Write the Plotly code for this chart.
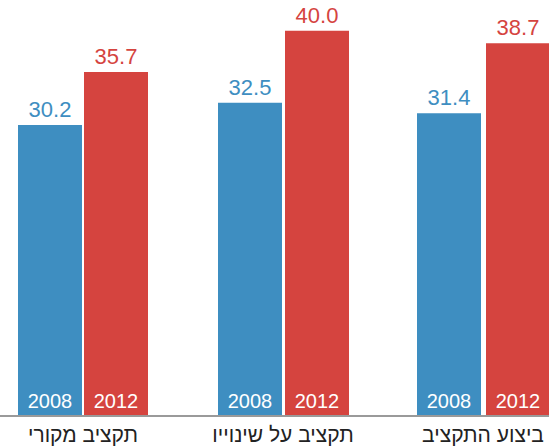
import plotly.graph_objects as go

categories = ["תקציב מקורי", "תקציב על שינוייו", "ביצוע התקציב"]
years = ["2008", "2012"]
values_2008 = [30.2, 32.5, 31.4]
values_2012 = [35.7, 40.0, 38.7]

BLUE = "#3e8ec1"
RED = "#d5443f"
FONT = "Liberation Sans, Arial, sans-serif"

series = [
    (years[0], values_2008, BLUE, [-0.325, -0.325, -0.33]),
    (years[1], values_2012, RED, [0.005, 0.01, 0.015]),
]
WIDTH = 0.32

fig = go.Figure()
for year, vals, color, off in series:
    # main bar with value label above
    fig.add_trace(go.Bar(
        x=categories, y=vals, name=year,
        marker=dict(color=color, line=dict(width=0)),
        offset=off, width=WIDTH,
        text=[f"{v:.1f}" for v in vals],
        textposition="outside",
        textfont=dict(family=FONT, size=22, color=color),
        constraintext="none",
        cliponaxis=False,
        hoverinfo="skip",
    ))
    # transparent overlay carrying the year label inside the bar
    fig.add_trace(go.Bar(
        x=categories, y=vals, name=year + " label",
        marker=dict(color="rgba(0,0,0,0)", line=dict(width=0)),
        offset=off, width=WIDTH,
        text=[year] * len(vals),
        textposition="inside",
        insidetextanchor="start",
        textangle=0,
        textfont=dict(family=FONT, size=20, color="white"),
        constraintext="none",
        hoverinfo="skip",
    ))

fig.update_layout(
    width=549, height=446,
    margin=dict(l=0, r=0, t=0, b=31),
    barmode="overlay",
    showlegend=False,
    plot_bgcolor="white",
    paper_bgcolor="white",
    font=dict(family=FONT),
    xaxis=dict(
        type="category",
        categoryarray=categories,
        range=[-0.415, 2.33],
        showgrid=False,
        zeroline=False,
        showline=True,
        linecolor="#9a9a9a",
        linewidth=2,
        ticks="",
        tickfont=dict(family=FONT, size=21, color="#222222"),
    ),
    yaxis=dict(
        range=[0, 43.2],
        visible=False,
        showgrid=False,
        zeroline=False,
    ),
)

fig.write_html("out.html")
